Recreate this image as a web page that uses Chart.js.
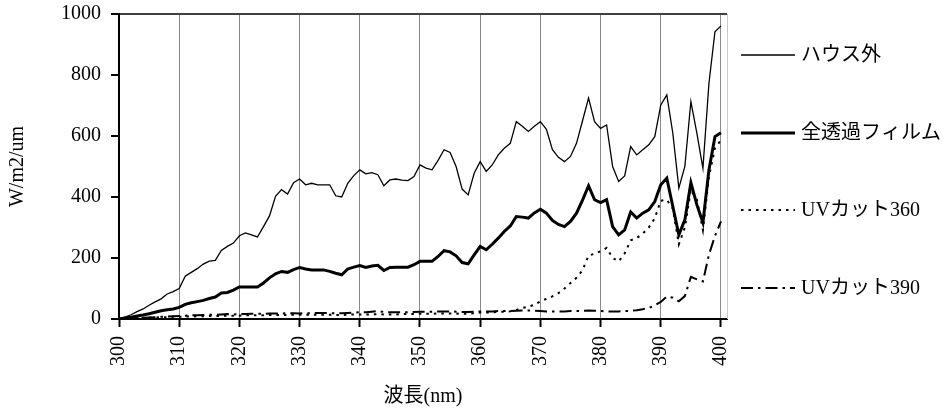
<!DOCTYPE html>
<html>
<head>
<meta charset="utf-8">
<script src="https://cdn.jsdelivr.net/npm/chart.js@4/dist/chart.umd.min.js"></script>
<style>
  body { margin: 0; background: #fff; }
  #wrap { width: 947px; height: 415px; }
</style>
</head>
<body>
<div id="wrap"><canvas id="spectrumChart" width="947" height="415"></canvas></div>
<script>
// wavelength (nm)
const wavelength = [
  300, 301, 302, 303, 304, 305, 306, 307, 308, 309,
  310, 311, 312, 313, 314, 315, 316, 317, 318, 319,
  320, 321, 322, 323, 324, 325, 326, 327, 328, 329,
  330, 331, 332, 333, 334, 335, 336, 337, 338, 339,
  340, 341, 342, 343, 344, 345, 346, 347, 348, 349,
  350, 351, 352, 353, 354, 355, 356, 357, 358, 359,
  360, 361, 362, 363, 364, 365, 366, 367, 368, 369,
  370, 371, 372, 373, 374, 375, 376, 377, 378, 379,
  380, 381, 382, 383, 384, 385, 386, 387, 388, 389,
  390, 391, 392, 393, 394, 395, 396, 397, 398, 399,
  400
];

// W/m2/um
const outside = [
  0, 6, 14, 24, 33, 45, 56, 66, 82, 90,
  100, 140, 153, 165, 180, 190, 192, 225, 238, 249,
  273, 282, 276, 269, 303, 338, 402, 424, 410, 447,
  459, 440, 445, 440, 440, 440, 404, 400, 445, 470,
  489, 476, 480, 473, 437, 456, 459, 455, 454, 467,
  505, 495, 489, 520, 555, 546, 500, 426, 407, 478,
  516, 484, 505, 538, 560, 576, 647, 632, 615, 632,
  647, 622, 555, 530, 516, 533, 576, 650, 724, 647,
  625, 636, 500, 451, 469, 565, 538, 555, 571, 598,
  702, 735, 609, 429, 500, 713, 609, 494, 773, 942,
  961
];

const fullFilm = [
  0, 3, 6, 10, 13, 17, 22, 27, 30, 33,
  38, 48, 53, 57, 61, 67, 72, 85, 87, 95,
  105, 105, 105, 105, 118, 135, 148, 156, 153, 162,
  169, 164, 161, 161, 161, 156, 150, 145, 164, 170,
  175, 169, 174, 176, 159, 169, 170, 170, 170, 178,
  189, 189, 189, 205, 224, 220, 207, 185, 181, 210,
  238, 227, 245, 265, 287, 305, 336, 334, 331, 348,
  360, 347, 323, 310, 303, 320, 347, 390, 437, 391,
  382, 391, 303, 276, 292, 351, 331, 347, 358, 385,
  440, 462, 369, 276, 325, 447, 374, 316, 489, 598,
  611
];

const uvCut360 = [
  0, 1, 2, 3, 4, 5, 5, 6, 6, 7,
  7, 8, 8, 9, 9, 10, 10, 10, 11, 11,
  11, 12, 12, 12, 12, 13, 13, 13, 13, 14,
  14, 14, 14, 14, 14, 14, 13, 13, 14, 15,
  15, 15, 15, 16, 15, 15, 15, 16, 16, 16,
  17, 17, 17, 18, 18, 18, 18, 17, 17, 19,
  21, 21, 22, 23, 24, 25, 30, 36, 40, 47,
  58, 66, 74, 85, 100, 118, 135, 160, 208, 214,
  222, 233, 200, 189, 215, 258, 265, 280, 300, 330,
  388, 391, 362, 245, 300, 424, 391, 292, 467, 560,
  587
];

const uvCut390 = [
  0, 1, 2, 3, 4, 5, 6, 7, 8, 9,
  10, 11, 12, 12, 13, 14, 14, 15, 16, 15,
  16, 16, 17, 17, 17, 18, 18, 18, 19, 19,
  18, 19, 19, 20, 20, 19, 19, 19, 20, 21,
  22, 22, 24, 26, 23, 22, 22, 22, 22, 23,
  24, 24, 24, 25, 25, 25, 24, 23, 23, 24,
  25, 25, 25, 26, 26, 26, 27, 28, 28, 27,
  26, 25, 25, 25, 25, 26, 26, 27, 28, 27,
  26, 25, 25, 25, 26, 27, 29, 32, 36, 45,
  56, 74, 70, 58, 75, 138, 130, 123, 211, 272,
  320
];

const seriesNames = ['ハウス外', '全透過フィルム', 'UVカット360', 'UVカット390'];
const xTicks = [300, 310, 320, 330, 340, 350, 360, 370, 380, 390, 400];
const yTicks = [0, 200, 400, 600, 800, 1000];

const FONT = "'Liberation Serif', 'Noto Sans CJK JP', serif";

function pts(values) {
  return wavelength.map((w, i) => ({ x: w, y: values[i] }));
}

// legend on the right, drawn by hand so the spacing matches
const sideLegend = {
  id: 'sideLegend',
  afterDraw(chart) {
    const c = chart.ctx;
    const area = chart.chartArea;
    // light right border of plot area
    c.save();
    c.strokeStyle = '#c8c8c8';
    c.lineWidth = 1;
    c.beginPath();
    c.moveTo(area.right + 0.5, area.top);
    c.lineTo(area.right + 0.5, area.bottom);
    c.stroke();

    const rows = [55, 133, 210, 288];
    chart.data.datasets.forEach((ds, i) => {
      const y = rows[i];
      c.strokeStyle = '#000';
      c.lineWidth = ds.borderWidth;
      c.setLineDash(ds.borderDash || []);
      c.beginPath();
      c.moveTo(741, y);
      c.lineTo(795, y);
      c.stroke();
      c.setLineDash([]);
      c.fillStyle = '#000';
      c.font = '20px ' + FONT;
      c.textBaseline = 'middle';
      c.fillText(ds.label, 801, y + 1);
    });
    c.restore();
  }
};

const ctx = document.getElementById('spectrumChart').getContext('2d');
new Chart(ctx, {
  type: 'line',
  data: {
    datasets: [
      {
        label: seriesNames[0],
        data: pts(outside),
        borderColor: '#000',
        borderWidth: 1.3,
      },
      {
        label: seriesNames[1],
        data: pts(fullFilm),
        borderColor: '#000',
        borderWidth: 3,
      },
      {
        label: seriesNames[2],
        data: pts(uvCut360),
        borderColor: '#000',
        borderWidth: 2,
        borderDash: [2.5, 5],
      },
      {
        label: seriesNames[3],
        data: pts(uvCut390),
        borderColor: '#000',
        borderWidth: 2,
        borderDash: [12, 5, 2.5, 5],
      }
    ]
  },
  options: {
    responsive: false,
    animation: false,
    elements: {
      point: { radius: 0 },
      line: { tension: 0, fill: false }
    },
    layout: {
      padding: { left: 0, top: 14, right: 220, bottom: 0 }
    },
    plugins: {
      legend: { display: false },
      tooltip: { enabled: false }
    },
    scales: {
      x: {
        type: 'linear',
        min: 300,
        max: 401,
        afterBuildTicks: (scale) => { scale.ticks = xTicks.map(v => ({ value: v })); },
        afterFit: (scale) => {
          scale.height = 96;
          scale.paddingLeft = 0;
          scale.paddingRight = 0;
        },
        ticks: {
          autoSkip: false,
          minRotation: 90,
          maxRotation: 90,
          padding: 9,
          color: '#000',
          font: { family: FONT, size: 20 },
          callback: (v) => String(v)
        },
        grid: {
          color: '#8a8a8a',
          lineWidth: 1,
          tickColor: '#000',
          tickWidth: 2,
          tickLength: 8
        },
        border: { color: '#000', width: 2 },
        title: {
          display: true,
          text: '波長(nm)',
          color: '#000',
          font: { family: FONT, size: 20 },
          padding: { top: 0, bottom: 6 }
        }
      },
      y: {
        min: 0,
        max: 1000,
        afterBuildTicks: (scale) => { scale.ticks = yTicks.map(v => ({ value: v })); },
        afterFit: (scale) => {
          scale.width = 119;
          scale.paddingTop = 0;
          scale.paddingBottom = 0;
        },
        ticks: {
          padding: 10,
          color: '#000',
          font: { family: FONT, size: 20 },
          callback: (v) => String(v)
        },
        grid: {
          color: (c) => (c.tick && c.tick.value === 1000 ? '#404040' : 'rgba(0,0,0,0)'),
          lineWidth: 2,
          tickColor: '#000',
          tickWidth: 2,
          tickLength: 8
        },
        border: { color: '#000', width: 2 },
        title: {
          display: true,
          text: 'W/m2/um',
          color: '#000',
          font: { family: FONT, size: 20 },
          padding: { top: 6, bottom: 0 }
        }
      }
    }
  },
  plugins: [sideLegend]
});
</script>
</body>
</html>
